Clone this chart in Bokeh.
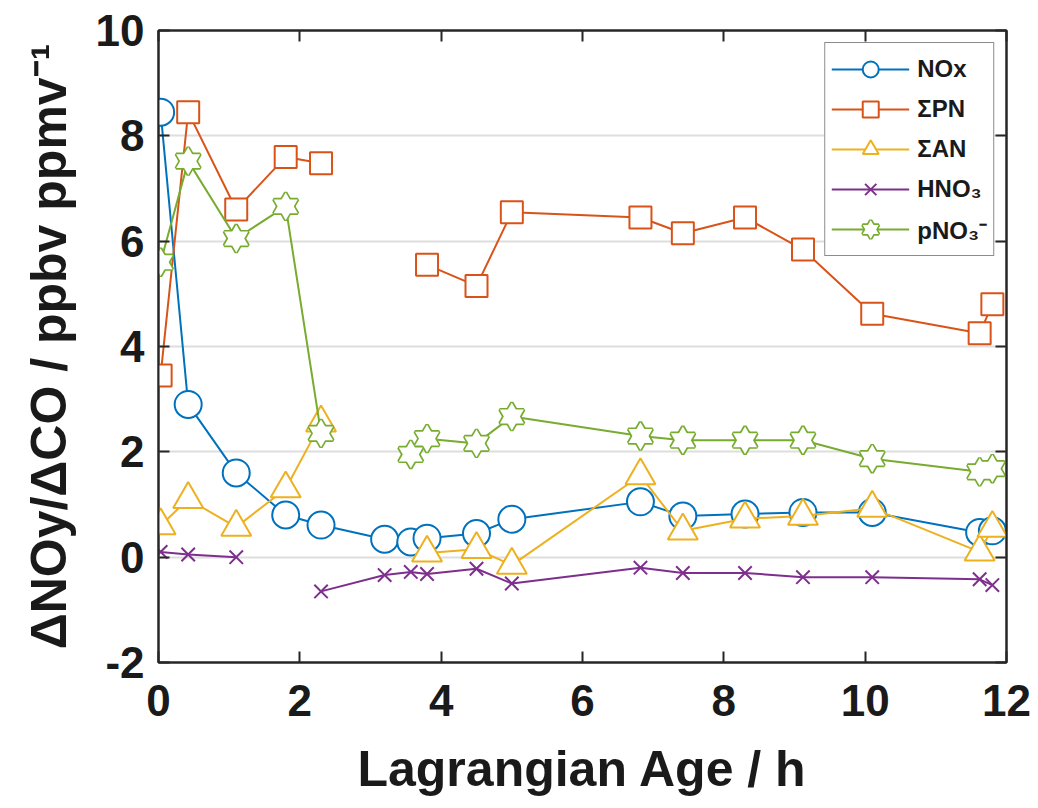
from bokeh.plotting import figure
from bokeh.models import Range1d, LinearAxis, Legend, LegendItem, FixedTicker, ColumnDataSource
from bokeh.embed import file_html
from bokeh.resources import INLINE

nan = float("nan")

# Lagrangian age (h)
age = [0.03, 0.42, 1.1, 1.8, 2.3, 3.2, 3.57, 3.8, 4.5, 5.0, 6.82, 7.42, 8.3, 9.12, 10.1, 11.62, 11.8]
# Delta NOy / Delta CO (ppbv ppmv^-1)
nox = [8.45, 2.9, 1.6, 0.8, 0.61, 0.34, 0.29, 0.36, 0.45, 0.72, 1.05, 0.78, 0.82, 0.85, 0.85, 0.47, 0.5]
spn = [3.45, 8.45, 6.6, 7.6, 7.48, nan, nan, 5.55, 5.15, 6.55, 6.45, 6.15, 6.45, 5.84, 4.62, 4.25, 4.8]
san = [0.6, 1.1, 0.57, 1.3, 2.55, nan, nan, 0.08, 0.15, -0.15, 1.55, 0.5, 0.73, 0.78, 0.93, 0.1, 0.55]
hno3 = [0.1, 0.05, 0.0, nan, -0.65, -0.34, -0.28, -0.32, -0.22, -0.5, -0.2, -0.3, -0.3, -0.38, -0.38, -0.42, -0.53]
pno3 = [5.6, 7.52, 6.05, 6.66, 2.35, nan, 1.95, 2.25, 2.16, 2.67, 2.3, 2.22, 2.22, 2.22, 1.87, 1.62, 1.68]

x_ticks = [0, 2, 4, 6, 8, 10, 12]
y_ticks = [-2, 0, 2, 4, 6, 8, 10]

FONT = "Liberation Sans"
DARK = "#262626"

p = figure(frame_width=848, frame_height=632,
           x_range=Range1d(0, 12), y_range=Range1d(-2, 10),
           output_backend="svg", toolbar_location=None,
           min_border_left=158, min_border_right=32,
           min_border_top=30, min_border_bottom=146,
           background_fill_color="white", border_fill_color="white")

p.outline_line_color = DARK
p.outline_line_width = 2
p.xgrid.grid_line_color = None
p.ygrid.grid_line_color = "#dedede"
p.ygrid.grid_line_width = 2

for ax in (p.xaxis[0], p.yaxis[0]):
    ax.axis_line_color = DARK
    ax.axis_line_width = 2
    ax.major_tick_line_color = DARK
    ax.major_tick_line_width = 2
    ax.major_tick_in = 11
    ax.major_tick_out = 0
    ax.minor_tick_line_color = None
    ax.major_label_text_font = FONT
    ax.major_label_text_font_style = "bold"
    ax.major_label_text_font_size = "44px"
    ax.major_label_text_color = "#1a1a1a"
    ax.axis_label_text_font = FONT
    ax.axis_label_text_font_style = "bold"
    ax.axis_label_text_font_size = "50px"
    ax.axis_label_text_color = "#1a1a1a"

p.xaxis[0].ticker = FixedTicker(ticks=x_ticks)
p.yaxis[0].ticker = FixedTicker(ticks=y_ticks)
p.yaxis[0].major_label_overrides = {t: str(t) for t in y_ticks}
p.xaxis[0].axis_label = "Lagrangian Age / h"
p.yaxis[0].axis_label = "\u0394NOy/\u0394CO / ppbv ppmv\u207b\u00b9"
p.xaxis[0].major_label_standoff = 22
p.xaxis[0].axis_label_standoff = 22
p.yaxis[0].major_label_standoff = 14
p.yaxis[0].axis_label_standoff = 16

# mirrored ticks on right / top (box on), labels not drawn
for loc, tick in (("right", y_ticks), ("above", x_ticks)):
    a = LinearAxis(ticker=FixedTicker(ticks=tick), major_label_text_color=None,
                   major_label_text_font_size="10px",
                   axis_line_color=DARK, axis_line_width=2,
                   major_tick_line_color=DARK, major_tick_line_width=2,
                   major_tick_in=11, major_tick_out=0, minor_tick_line_color=None,
                   major_label_standoff=0)
    p.add_layout(a, loc)

src = ColumnDataSource(dict(age=age, nox=nox, spn=spn, san=san, hno3=hno3, pno3=pno3))

colors = dict(nox="#0072BD", spn="#D95319", san="#EDB120", hno3="#7E2F8E", pno3="#77AC30")
items = []

def series(key, marker, size, label):
    c = colors[key]
    ln = p.line("age", key, source=src, line_color=c, line_width=2)
    rs = [ln]
    if marker == "hexagram":
        for m in ("triangle", "inverted_triangle"):
            rs.append(p.scatter("age", key, source=src, marker=m, size=size,
                                line_color=c, line_width=3.4, fill_color=None))
        for m in ("triangle", "inverted_triangle"):
            rs.append(p.scatter("age", key, source=src, marker=m, size=size,
                                line_color=None, fill_color="white"))
    elif marker == "x":
        rs.append(p.scatter("age", key, source=src, marker="x", size=size,
                            line_color=c, line_width=2))
    else:
        rs.append(p.scatter("age", key, source=src, marker=marker, size=size,
                            line_color=c, line_width=2, fill_color="white"))
    items.append(LegendItem(label=label, renderers=rs))

series("nox", "circle", 27, "NOx")
series("spn", "square", 22, "\u03a3PN")
series("san", "triangle", 30, "\u03a3AN")
series("hno3", "x", 19, "HNO\u2083")
series("pno3", "hexagram", 24, "pNO\u2083\u207b")

legend = Legend(items=items, location="top_right", margin=12,
                glyph_width=78, glyph_height=40, label_standoff=8,
                padding=6, spacing=0,
                label_text_font=FONT, label_text_font_style="bold",
                label_text_font_size="24px", label_text_color="#1a1a1a",
                border_line_color="#1a1a1a", border_line_width=1.5,
                background_fill_color="white", background_fill_alpha=1)
p.add_layout(legend)

open("out.html", "w").write(file_html(p, INLINE))
